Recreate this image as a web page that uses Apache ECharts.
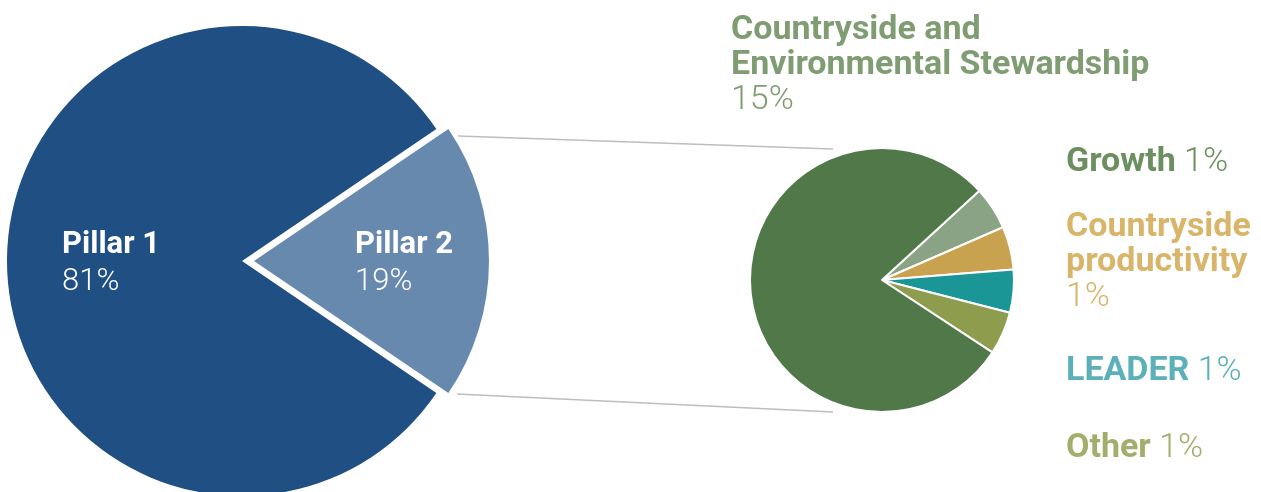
<!DOCTYPE html>
<html>
<head>
<meta charset="utf-8">
<script src="https://cdn.jsdelivr.net/npm/echarts@6/dist/echarts.min.js"></script>
<style>
  html, body { margin: 0; padding: 0; background: #ffffff; }
  #chart { width: 1261px; height: 492px; }
</style>
</head>
<body>
<div id="chart"></div>
<script>
// CAP budget split: Pillar 1 vs Pillar 2 (percent of total)
const pillarNames = ['Pillar 2', 'Pillar 1'];
const pillarValues = [19, 81];

// Breakdown of Pillar 2 (percent of total budget)
const schemeNames = ['Growth', 'Countryside productivity', 'LEADER', 'Other', 'Countryside and Environmental Stewardship'];
const schemeLabels = ['Growth', 'Countryside\nproductivity', 'LEADER', 'Other', 'Countryside and\nEnvironmental Stewardship'];
const schemeValues = [1, 1, 1, 1, 15];

// Geometry of the two pies
const LEFT_C = [242, 261], LEFT_R = 235, P2_OFFSET = 12;
const RIGHT_C = [882, 280], RIGHT_R = 132;

const pillarColors = ['#6889ae', '#1f4f83'];
const schemeColors = ['#8aa385', '#c8a24f', '#1b9696', '#8e9c4d', '#517849'];
const schemeTextColors = ['#6b8f5f', '#d9b56a', '#5bb0b9', '#a3ae6c', '#7f9c72'];

const FONT = 'Roboto, "Noto Sans", sans-serif';
const FS_LEFT = 31;
const FS_RIGHT = 34;

// Label boxes (left x, top y)
const schemeLabelPos = [[1066, 145], [1066, 210], [1066, 354], [1066, 431], [731, 13]];
const pillarLabelPos = [[355, 227], [62, 227]];

const chart = echarts.init(document.getElementById('chart'), null, { renderer: 'canvas' });

function pct(v) { return v + '%'; }

// The Pillar split is drawn as two layers: Pillar 1 at the pie centre and
// Pillar 2 pulled out to the right along its bisector.
function pillarSeries(shownIndex, dx) {
  return {
    type: 'pie',
    center: [LEFT_C[0] + dx, LEFT_C[1]],
    radius: [0, LEFT_R],
    startAngle: 180 * pillarValues[0] / 100,
    clockwise: true,
    avoidLabelOverlap: false,
    silent: true,
    itemStyle: { borderColor: 'rgba(0,0,0,0)', borderWidth: 0 },
    label: {
      show: true,
      position: 'inside',
      formatter: p => '{n|' + p.name + '}\n{v|' + pct(p.value) + '}',
      rich: {
        n: { fontFamily: FONT, fontWeight: 'bold', fontSize: FS_LEFT, color: '#ffffff', lineHeight: 37, align: 'left' },
        v: { fontFamily: FONT, fontWeight: 300, fontSize: FS_LEFT, color: '#ffffff', lineHeight: 37, align: 'left' }
      }
    },
    labelLine: { show: false },
    labelLayout: p => ({
      x: pillarLabelPos[p.dataIndex][0],
      y: pillarLabelPos[p.dataIndex][1],
      align: 'left',
      verticalAlign: 'top'
    }),
    data: pillarNames.map((n, i) => ({
      name: n,
      value: pillarValues[i],
      itemStyle: { color: i === shownIndex ? pillarColors[i] : 'rgba(0,0,0,0)' },
      label: { show: i === shownIndex }
    }))
  };
}

const option = {
  animation: false,
  backgroundColor: '#ffffff',
  series: [
    pillarSeries(1, 0),
    pillarSeries(0, P2_OFFSET),
    {
      type: 'pie',
      center: RIGHT_C,
      radius: [0, RIGHT_R],
      startAngle: 42.5,
      clockwise: true,
      avoidLabelOverlap: false,
      silent: true,
      itemStyle: { borderColor: '#ffffff', borderWidth: 2 },
      label: {
        show: true,
        position: 'outside',
        formatter: p => {
          const lines = schemeLabels[p.dataIndex].split('\n');
          const head = lines.map(l => '{n' + p.dataIndex + '|' + l + '}').join('\n');
          const value = lines.length > 1 ? '\n{v' + p.dataIndex + '|' + pct(p.value) + '}'
                                         : '{v' + p.dataIndex + '| ' + pct(p.value) + '}';
          return head + value;
        },
        rich: Object.assign({}, ...schemeTextColors.map((c, i) => ({
          ['n' + i]: { fontFamily: FONT, fontWeight: 'bold', fontSize: FS_RIGHT, color: c, lineHeight: 35, align: 'left' },
          ['v' + i]: { fontFamily: FONT, fontWeight: 300, fontSize: FS_RIGHT, color: c, lineHeight: 35, align: 'left' }
        })))
      },
      labelLine: { show: false },
      labelLayout: p => ({
        x: schemeLabelPos[p.dataIndex][0],
        y: schemeLabelPos[p.dataIndex][1],
        align: 'left',
        verticalAlign: 'top'
      }),
      data: schemeNames.map((n, i) => ({
        name: n,
        value: schemeValues[i],
        itemStyle: { color: schemeColors[i] }
      }))
    }
  ],
  graphic: [
    {
      type: 'line',
      silent: true,
      shape: { x1: LEFT_C[0] + 216, y1: LEFT_C[1] - 125, x2: RIGHT_C[0] - 49, y2: RIGHT_C[1] - 131 },
      style: { stroke: '#bdbdbd', lineWidth: 1.5 }
    },
    {
      type: 'line',
      silent: true,
      shape: { x1: LEFT_C[0] + 215, y1: LEFT_C[1] + 133, x2: RIGHT_C[0] - 49, y2: RIGHT_C[1] + 132 },
      style: { stroke: '#bdbdbd', lineWidth: 1.5 }
    }
  ]
};

chart.setOption(option);
</script>
</body>
</html>
